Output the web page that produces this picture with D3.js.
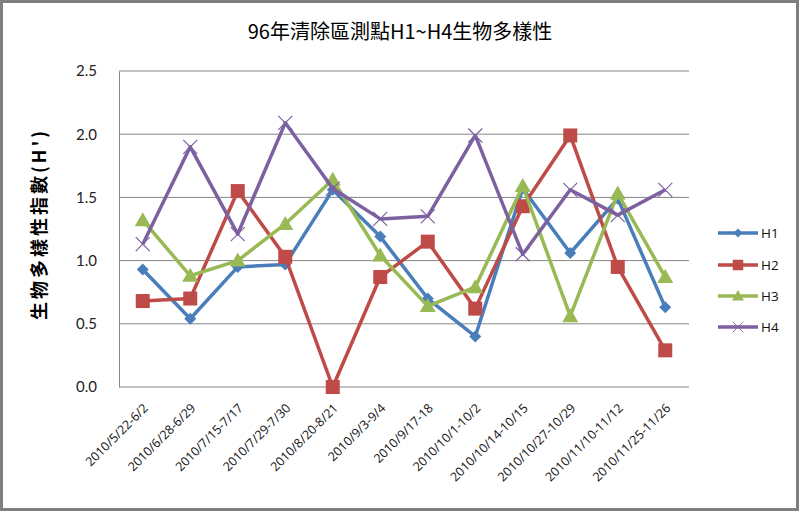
<!DOCTYPE html>
<html><head><meta charset="utf-8">
<script src="https://cdn.jsdelivr.net/npm/d3@7"></script>
<style>body{margin:0;background:#fff}svg{display:block}</style>
</head><body>
<svg id="c" width="800" height="511"></svg>
<script>
const categories = ["2010/5/22-6/2","2010/6/28-6/29","2010/7/15-7/17","2010/7/29-7/30","2010/8/20-8/21","2010/9/3-9/4","2010/9/17-18","2010/10/1-10/2","2010/10/14-10/15","2010/10/27-10/29","2010/11/10-11/12","2010/11/25-11/26"];
const H1 = [0.93,0.54,0.95,0.97,1.56,1.19,0.70,0.40,1.57,1.06,1.49,0.63];
const H2 = [0.68,0.70,1.55,1.03,0.00,0.87,1.15,0.62,1.43,1.99,0.95,0.29];
const H3 = [1.32,0.88,1.00,1.29,1.64,1.04,0.64,0.79,1.59,0.56,1.53,0.87];
const H4 = [1.13,1.90,1.21,2.09,1.57,1.33,1.35,1.99,1.05,1.56,1.36,1.56];
const seriesNames = ["H1","H2","H3","H4"];
const yTicks = [0,0.5,1.0,1.5,2.0,2.5];
const title = "96年清除區測點H1~H4生物多樣性";
const yTitle = "生物多樣性指數(H')";

const series = [
  {name:"H1", values:H1, color:"#4A7EBB", marker:"diamond"},
  {name:"H2", values:H2, color:"#BE4B48", marker:"square"},
  {name:"H3", values:H3, color:"#98B954", marker:"triangle"},
  {name:"H4", values:H4, color:"#7D60A0", marker:"cross"}
];

const svg = d3.select("#c");
const L=119, R=689, T=71, B=387;
const x = d3.scaleBand().domain(categories).range([L,R]);
const y = d3.scaleLinear().domain([0,2.5]).range([B,T]);

// outer frame
svg.append("rect").attr("x",1.5).attr("y",1.5).attr("width",796).attr("height",508)
  .attr("fill","#fff").attr("stroke","#7f7f7f").attr("stroke-width",3);

// title
svg.append("text").attr("x",400).attr("y",39).attr("text-anchor","middle")
  .attr("font-family","'Noto Sans CJK TC','Noto Sans CJK SC',serif").attr("font-size",20)
  .attr("fill","#000").text(title);

// gridlines
svg.append("g").selectAll("line").data(yTicks).join("line")
  .attr("x1",L).attr("x2",R).attr("y1",d=>y(d)).attr("y2",d=>y(d))
  .attr("stroke","#868686").attr("stroke-width",1);

// y axis
const yAxis = d3.axisLeft(y).tickValues(yTicks).tickFormat(d3.format(".1f")).tickSize(0).tickPadding(22);
const yg = svg.append("g").attr("transform",`translate(${L},0)`).call(yAxis);
yg.select(".domain").attr("stroke","#868686");
yg.selectAll("text").attr("font-family","Lato,'Open Sans',sans-serif").attr("font-size",15).attr("fill","#222");

// x axis
const xg = svg.append("g").attr("transform",`translate(0,${B})`).call(d3.axisBottom(x).tickSize(0).tickPadding(0));
xg.select(".domain").remove();
xg.selectAll(".tick text")
  .attr("font-family","'Open Sans',Lato,sans-serif").attr("font-size",12.5).attr("fill","#111")
  .attr("text-anchor","end").attr("dy",0).attr("y",0)
  .attr("transform","translate(6,22) rotate(-45)");

// y title
svg.append("text").attr("transform","translate(46,224) rotate(-90)").attr("text-anchor","middle")
  .attr("font-family","'Noto Sans CJK TC','Noto Sans CJK SC',serif").attr("font-size",18).attr("font-weight","bold")
  .attr("letter-spacing",3).attr("fill","#000").text(yTitle);

function drawMarker(g, type, color, cx, cy){
  if(type==="diamond"){
    g.append("path").attr("d",`M${cx},${cy-6}L${cx+6},${cy}L${cx},${cy+6}L${cx-6},${cy}Z`).attr("fill",color);
  } else if(type==="square"){
    g.append("rect").attr("x",cx-7).attr("y",cy-7).attr("width",14).attr("height",14).attr("fill",color);
  } else if(type==="triangle"){
    g.append("path").attr("d",`M${cx},${cy-8}L${cx+8},${cy+6}L${cx-8},${cy+6}Z`).attr("fill",color);
  } else {
    g.append("path").attr("d",`M${cx-7},${cy-7}L${cx+7},${cy+7}M${cx+7},${cy-7}L${cx-7},${cy+7}`)
      .attr("stroke",color).attr("stroke-width",1.2).attr("fill","none");
  }
}

const line = d3.line().x((d,i)=>x(categories[i])+x.bandwidth()/2).y(d=>y(d));
series.forEach(s=>{
  const g = svg.append("g");
  g.append("path").datum(s.values).attr("d",line).attr("fill","none")
    .attr("stroke",s.color).attr("stroke-width",3.5).attr("stroke-linejoin","round");
  s.values.forEach((v,i)=>drawMarker(g,s.marker,s.color,x(categories[i])+x.bandwidth()/2,y(v)));
});

// legend
const legY = [233,265,296,327];
series.forEach((s,i)=>{
  const g = svg.append("g");
  g.append("line").attr("x1",718).attr("x2",758).attr("y1",legY[i]).attr("y2",legY[i])
    .attr("stroke",s.color).attr("stroke-width",3.5);
  const m = g.append("g").attr("transform",`translate(738,${legY[i]}) scale(0.75) translate(-738,${-legY[i]})`);
  drawMarker(m,s.marker,s.color,738,legY[i]);
  g.append("text").attr("x",761).attr("y",legY[i]+5).attr("font-family","'Open Sans',Lato,sans-serif")
    .attr("font-size",13.5).attr("fill","#111").text(s.name);
});
</script>
</body></html>
